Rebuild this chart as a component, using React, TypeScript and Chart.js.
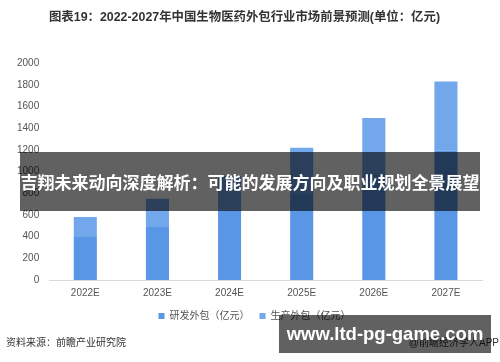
import React, { useEffect, useRef } from "react";
import { Chart, registerables } from "chart.js";

Chart.register(...registerables);

const categories = ["2022E", "2023E", "2024E", "2025E", "2026E", "2027E"];
const rdValues = [397, 490, 650, 800, 985, 1193];
const prodValues = [184, 260, 310, 420, 510, 640];
const seriesNames = ["研发外包（亿元）", "生产外包（亿元）"];
const titleText = "图表19：2022-2027年中国生物医药外包行业市场前景预测(单位：亿元)";
const sourceText = "资料来源：前瞻产业研究院";
const bannerText = "吉翔未来动向深度解析：可能的发展方向及职业规划全景展望";
const siteText = "www.ltd-pg-game.com";
const appText = "@前瞻经济学人APP";

const FONT = "'Liberation Sans', 'Noto Sans CJK SC', sans-serif";

const legendShift = {
  id: "legendShift",
  afterLayout(chart: any) {
    const l = chart.legend;
    if (l) {
      l.left += 10;
      l.right += 10;
    }
  },
};

export default function App() {
  const ref = useRef<HTMLCanvasElement | null>(null);

  useEffect(() => {
    if (!ref.current) return;
    const chart = new Chart(ref.current, {
      type: "bar",
      data: {
        labels: categories,
        datasets: [
          {
            label: seriesNames[0],
            data: rdValues,
            backgroundColor: "#5a96e6",
            barPercentage: 0.32,
            categoryPercentage: 1,
          },
          {
            label: seriesNames[1],
            data: prodValues,
            backgroundColor: "#72a7ec",
            barPercentage: 0.32,
            categoryPercentage: 1,
          },
        ],
      },
      plugins: [legendShift],
      options: {
        responsive: false,
        animation: false,
        layout: { padding: { left: 7, right: 18, top: 0, bottom: 31 } },
        plugins: {
          title: {
            display: true,
            text: titleText,
            color: "#333333",
            font: { family: FONT, size: 12.4, weight: "bold" },
            padding: { top: 10, bottom: 38.5 },
          },
          legend: {
            position: "bottom",
            labels: {
              boxWidth: 6,
              boxHeight: 6,
              color: "#555555",
              font: { family: FONT, size: 10 },
              padding: 5,
              generateLabels: (c: any) => {
                const items = Chart.defaults.plugins.legend.labels.generateLabels(c);
                if (items[0]) items[0].text = items[0].text + "\u3000";
                return items;
              },
            },
          },
          tooltip: { enabled: false },
        },
        scales: {
          x: {
            stacked: true,
            grid: { display: false, drawTicks: false },
            border: { display: true, color: "#d9d9d9" },
            ticks: { color: "#555555", font: { family: FONT, size: 10 }, padding: 7 },
          },
          y: {
            stacked: true,
            min: 0,
            max: 2000,
            grid: { display: false, drawTicks: false },
            border: { display: false },
            ticks: {
              stepSize: 200,
              color: "#555555",
              font: { family: FONT, size: 10 },
              padding: 10,
              callback: (v: any) => String(v),
            },
          },
        },
      },
    });
    return () => chart.destroy();
  }, []);

  return (
    <div style={{ position: "absolute", left: 0, top: 0, width: 500, height: 362, background: "#fff", overflow: "hidden" }}>
      <canvas ref={ref} width={500} height={362} style={{ position: "absolute", left: 0, top: 0 }} />
      <div style={{ position: "absolute", left: 6, top: 336, fontFamily: FONT, fontSize: 10, color: "#333", lineHeight: "14px" }}>
        {sourceText}
      </div>
      <div style={{ position: "absolute", right: 1, top: 336, fontFamily: FONT, fontSize: 10, color: "#333", lineHeight: "14px" }}>
        {appText}
      </div>
      <div
        style={{
          position: "absolute", left: 20, top: 152, width: 460, height: 59,
          background: "rgba(0,0,0,0.62)", color: "#fff", fontFamily: FONT, fontWeight: "bold",
          fontSize: 17, display: "flex", alignItems: "center", justifyContent: "center", whiteSpace: "nowrap",
        }}
      >
        {bannerText}
      </div>
      <div
        style={{
          position: "absolute", left: 279, top: 315, width: 212, height: 38,
          background: "rgba(0,0,0,0.62)", color: "#fff", fontFamily: FONT, fontWeight: "bold",
          fontSize: 18.5, display: "flex", alignItems: "center", justifyContent: "center", whiteSpace: "nowrap",
        }}
      >
        {siteText}
      </div>
    </div>
  );
}
